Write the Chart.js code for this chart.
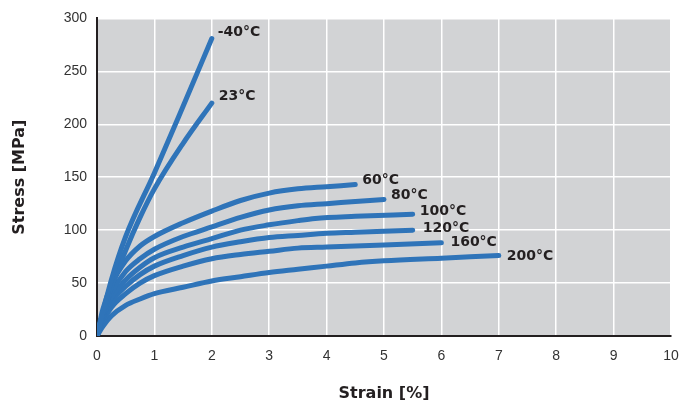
<!DOCTYPE html>
<html>
<head>
<meta charset="utf-8">
<script src="https://cdn.jsdelivr.net/npm/chart.js@4"></script>
<style>
  html, body { margin: 0; padding: 0; background: #fff; }
  #wrap { width: 693px; height: 407px; }
</style>
</head>
<body>
<div id="wrap"><canvas id="stress"></canvas></div>
<script>
// tick values
const xTicks = [0, 1, 2, 3, 4, 5, 6, 7, 8, 9, 10];
const yTicks = [0, 50, 100, 150, 200, 250, 300];

// temperatures (curve labels)
const temps = ["-40°C", "23°C", "60°C", "80°C", "100°C", "120°C", "160°C", "200°C"];

// strain [%] / stress [MPa]
const strainM40 = [0, 0.25, 0.5, 1, 1.5, 2];
const stressM40 = [0, 53, 94, 154, 217, 281];

const strain23 = [0, 0.25, 0.5, 0.75, 1, 1.5, 2];
const stress23 = [0, 46, 81, 112, 139, 182, 220];

const strain60 = [0, 0.1, 0.25, 0.5, 0.75, 1, 1.5, 2, 2.5, 3, 3.5, 4, 4.5];
const stress60 = [0, 25, 48, 71, 85, 94, 107, 118, 128, 135, 139, 141, 143];

const strain80 = [0, 0.1, 0.25, 0.5, 0.75, 1, 1.5, 2, 2.5, 3, 3.5, 4, 4.5, 5];
const stress80 = [0, 21, 41, 61, 73, 82, 94, 103, 112, 119, 123, 125, 127, 129];

const strain100 = [0, 0.1, 0.25, 0.5, 0.75, 1, 1.5, 2, 2.5, 3, 3.5, 3.8, 4.5, 5.5];
const stress100 = [0, 18, 36, 53, 65, 74, 84, 92, 100, 105, 109, 111, 113, 115];

const strain120 = [0, 0.1, 0.25, 0.5, 0.75, 1, 1.5, 2, 2.5, 3, 3.5, 4, 4.5, 5.5];
const stress120 = [0, 16, 32, 47, 58, 66, 76, 84, 89, 93, 95, 97, 98, 100];

const strain160 = [0, 0.1, 0.25, 0.5, 0.75, 1, 1.5, 2, 2.5, 3, 3.5, 4, 5, 6];
const stress160 = [0, 13, 27, 40, 50, 57, 66, 73, 77, 80, 83, 84, 86, 88];

const strain200 = [0, 0.1, 0.25, 0.5, 0.75, 1, 1.5, 2, 2.5, 3, 3.5, 4, 4.5, 5, 6, 7];
const stress200 = [0, 9, 19, 29, 35, 40, 46, 52, 56, 60, 63, 66, 69, 71, 73.5, 76];

const strains = [strainM40, strain23, strain60, strain80, strain100, strain120, strain160, strain200];
const stresses = [stressM40, stress23, stress60, stress80, stress100, stress120, stress160, stress200];

// label nudges from the curve end (px)
const labelDx = [6, 7, 7, 7, 7, 10, 9, 8];
const labelDy = [-6, -7, -4, -4, -3, -2, 0, 1];

const blue = "#2f74b9";
const ink = "#231f20";

const datasets = temps.map((t, i) => ({
  label: t,
  data: strains[i].map((x, j) => ({ x: x, y: stresses[i][j] })),
  borderColor: blue,
  borderWidth: 5,
  borderCapStyle: "round",
  borderJoinStyle: "round",
  pointRadius: 0,
  fill: false,
  cubicInterpolationMode: "monotone",
}));

// grey plot background
const plotBg = {
  id: "plotBg",
  beforeDraw(chart) {
    const { ctx, chartArea: a } = chart;
    ctx.save();
    ctx.fillStyle = "#d2d3d5";
    ctx.fillRect(a.left, a.top, a.right - a.left, a.bottom - a.top);
    ctx.restore();
  },
};

// temperature labels at curve ends
const endLabels = {
  id: "endLabels",
  afterDatasetsDraw(chart) {
    const { ctx, scales } = chart;
    ctx.save();
    ctx.font = "bold 14px 'DejaVu Sans'";
    ctx.fillStyle = ink;
    ctx.textBaseline = "middle";
    ctx.textAlign = "left";
    temps.forEach((t, i) => {
      const n = strains[i].length - 1;
      const px = scales.x.getPixelForValue(strains[i][n]);
      const py = scales.y.getPixelForValue(stresses[i][n]);
      ctx.fillText(t, px + labelDx[i], py + labelDy[i]);
    });
    ctx.restore();
  },
};

new Chart(document.getElementById("stress"), {
  type: "line",
  data: { datasets: datasets },
  plugins: [plotBg, endLabels],
  options: {
    responsive: true,
    maintainAspectRatio: false,
    animation: false,
    layout: { padding: { top: 17, right: 22, bottom: 0, left: 0 } },
    plugins: { legend: { display: false }, tooltip: { enabled: false } },
    scales: {
      x: {
        type: "linear",
        min: 0,
        max: 10,
        afterBuildTicks: (s) => { s.ticks = xTicks.map((v) => ({ value: v })); },
        afterFit: (s) => { s.height = 71; },
        grid: { color: "#ffffff", lineWidth: 1.5, drawTicks: false },
        border: { color: ink, width: 2 },
        ticks: { padding: 12, color: "#333", font: { family: "'Liberation Sans'", size: 14 } },
        title: {
          display: true,
          text: "Strain [%]",
          color: ink,
          font: { family: "'DejaVu Sans'", size: 16, weight: "bold" },
          padding: { top: 0, bottom: 4 },
        },
      },
      y: {
        type: "linear",
        min: 0,
        max: 300,
        afterBuildTicks: (s) => { s.ticks = yTicks.map((v) => ({ value: v })); },
        afterFit: (s) => { s.width = 97; },
        grid: { color: "#ffffff", lineWidth: 1.5, drawTicks: false },
        border: { color: ink, width: 2 },
        ticks: { padding: 10, color: "#333", font: { family: "'Liberation Sans'", size: 14 } },
        title: {
          display: true,
          text: "Stress [MPa]",
          color: ink,
          font: { family: "'DejaVu Sans'", size: 16, weight: "bold" },
          padding: { top: 10, bottom: 0 },
        },
      },
    },
  },
});
</script>
</body>
</html>
